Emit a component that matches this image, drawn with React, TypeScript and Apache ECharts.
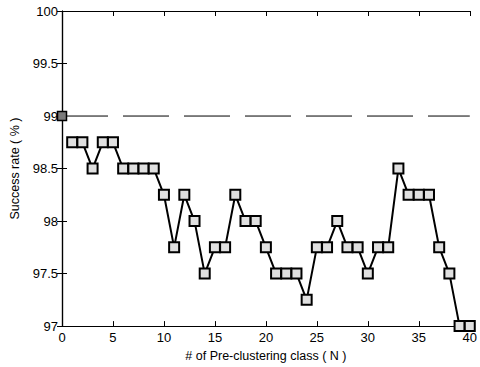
import React, { useEffect, useRef } from "react";
import * as echarts from "echarts";

// Number of pre-clustering classes (N) and the success rate measured for each
const classCounts = [
  1, 2, 3, 4, 5, 6, 7, 8, 9, 10, 11, 12, 13, 14, 15, 16, 17, 18, 19, 20,
  21, 22, 23, 24, 25, 26, 27, 28, 29, 30, 31, 32, 33, 34, 35, 36, 37, 38, 39, 40,
];
const successRates = [
  98.75, 98.75, 98.5, 98.75, 98.75, 98.5, 98.5, 98.5, 98.5, 98.25,
  97.75, 98.25, 98.0, 97.5, 97.75, 97.75, 98.25, 98.0, 98.0, 97.75,
  97.5, 97.5, 97.5, 97.25, 97.75, 97.75, 98.0, 97.75, 97.75, 97.5,
  97.75, 97.75, 98.5, 98.25, 98.25, 98.25, 97.75, 97.5, 97.0, 97.0,
];
// Baseline without pre-clustering (N = 0), extended across the plot
const baselineRate = 99;
const baselineSpan = [0, 40];

const font = "'Liberation Sans', Arial, sans-serif";

export default function App() {
  const ref = useRef<HTMLDivElement>(null);

  useEffect(() => {
    if (!ref.current) return;
    const chart = echarts.init(ref.current, undefined, { renderer: "svg" });
    const tickStyle = { show: true, inside: true, length: 5, lineStyle: { color: "#000", width: 1 } };
    const lineStyle = { show: true, lineStyle: { color: "#000", width: 1.2 } };
    chart.setOption({
      animation: false,
      backgroundColor: "#fff",
      textStyle: { fontFamily: font },
      grid: { left: 62, right: 8, top: 11, bottom: 39 },
      xAxis: [
        {
          type: "value",
          min: 0,
          max: 40,
          interval: 5,
          name: "# of Pre-clustering class ( N )",
          nameLocation: "middle",
          nameGap: 21,
          nameTextStyle: { color: "#000", fontSize: 12.5, fontFamily: font },
          axisLine: lineStyle,
          axisTick: tickStyle,
          axisLabel: { color: "#000", fontSize: 13, margin: 5, fontFamily: font },
          splitLine: { show: false },
        },
        {
          type: "value",
          position: "top",
          min: 0,
          max: 40,
          interval: 5,
          axisLine: lineStyle,
          axisTick: tickStyle,
          axisLabel: { show: false },
          splitLine: { show: false },
        },
      ],
      yAxis: [
        {
          type: "value",
          min: 97,
          max: 100,
          interval: 0.5,
          name: "Success rate ( % )",
          nameLocation: "middle",
          nameGap: 36,
          nameTextStyle: { color: "#000", fontSize: 12.5, fontFamily: font },
          axisLine: lineStyle,
          axisTick: tickStyle,
          axisLabel: { color: "#000", fontSize: 13, margin: 4, fontFamily: font },
          splitLine: { show: false },
        },
        {
          type: "value",
          position: "right",
          min: 97,
          max: 100,
          interval: 0.5,
          axisLine: lineStyle,
          axisTick: tickStyle,
          axisLabel: { show: false },
          splitLine: { show: false },
        },
      ],
      series: [
        {
          type: "line",
          data: baselineSpan.map((x, i) => ({
            value: [x, baselineRate],
            symbol: i === 0 ? "rect" : "none",
          })),
          lineStyle: { color: "#000", width: 1, type: [46, 15] },
          symbol: "rect",
          symbolSize: 9,
          showSymbol: true,
          itemStyle: { color: "#7a7a7a", borderColor: "#000", borderWidth: 1.5 },
          z: 3,
        },
        {
          type: "line",
          data: classCounts.map((n, i) => [n, successRates[i]]),
          lineStyle: { color: "#000", width: 2 },
          symbol: "rect",
          symbolSize: 10,
          itemStyle: { color: "#e0e0e0", borderColor: "#000", borderWidth: 2 },
          z: 4,
        },
      ],
    });
    return () => chart.dispose();
  }, []);

  return <div ref={ref} style={{ width: 480, height: 367, position: "absolute", left: 0, top: 0 }} />;
}
